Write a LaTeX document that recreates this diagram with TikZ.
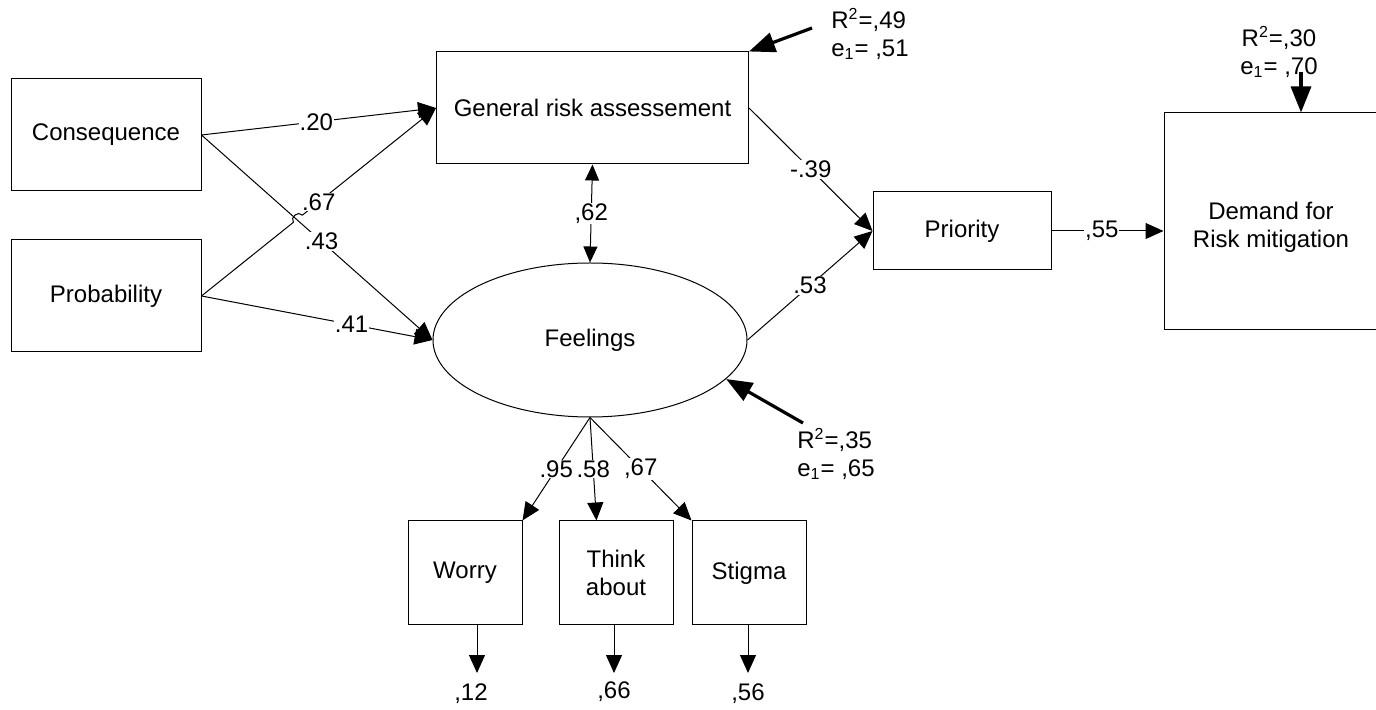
\documentclass[tikz,border=0pt]{standalone}
\usepackage{fontspec}
\setmainfont{Liberation Sans}
\usetikzlibrary{arrows.meta,shapes.geometric,calc}

\begin{document}
\begin{tikzpicture}[x=0.5pt,y=-0.5pt,
    font=\fontsize{12}{14}\selectfont,
    box/.style = {draw, line width=0.5pt, inner sep=0pt, align=center},
    path/.style = {draw, line width=0.5pt, -{Triangle[length=9pt,width=8pt]}},
    resid/.style = {draw, line width=1.6pt, -{Triangle[length=13pt,width=10pt]}},
    lbl/.style = {fill=white, inner sep=0.4pt},
    errtxt/.style = {align=left, inner sep=0pt}]
  \clip (0,0) rectangle (1376,710);

  % observed and latent variables
  \node[box, minimum width=95pt, minimum height=56pt] (cons) at (106,135) {Consequence};
  \node[box, minimum width=95pt, minimum height=56pt] (prob) at (106,296) {Probability};
  \node[box, minimum width=156pt, minimum height=56pt] (gra) at (592.5,108) {General risk assessement};
  \node[box, ellipse, minimum width=157pt, minimum height=77pt] (fe) at (590,340) {Feelings};
  \node[box, minimum width=89pt, minimum height=39pt] (pri) at (962,231) {Priority};
  \node[box, minimum width=107pt, minimum height=108.5pt] (dem) at (1271,221.5) {};
  \node[align=center] (demtxt) at ($(dem)+(0,6)$) {Demand for\\Risk mitigation};
  \node[box, minimum width=57pt, minimum height=52pt] (worry) at (465,573) {Worry};
  \node[box, minimum width=57pt, minimum height=52pt] (think) at (616,573) {Think\\about};
  \node[box, minimum width=57pt, minimum height=52pt] (stig) at (749,573) {Stigma};

  % hop where two paths cross
  \coordinate (h1) at ($(prob.east)!0.392!(gra.west)$);
  \coordinate (h2) at ($(prob.east)!0.430!(gra.west)$);

  % structural paths
  \draw[path] (cons.east) -- (gra.west);
  \draw[path] (cons.east) -- (fe.west);
  \draw[path] (prob.east) -- (h1) to[bend left=90, looseness=1.4] (h2) -- (gra.west);
  \draw[path] (prob.east) -- (fe.west);
  \draw[path] (gra.east) -- (pri.west);
  \draw[path] (fe.east) -- (pri.west);
  \draw[path] (pri.east) -- (pri.east -| dem.west);
  \draw[path, {Triangle[length=8pt,width=7pt]}-{Triangle[length=8pt,width=7pt]}] (gra.south) -- (fe.north);

  \path (cons.east) -- (gra.west) node[lbl, pos=.49] {.20};
  \path (cons.east) -- (fe.west) node[lbl, pos=.52] {.43};
  \path (prob.east) -- (gra.west) node[lbl, pos=.5] {.67};
  \path (prob.east) -- (fe.west) node[lbl, pos=.65] {.41};
  \path (gra.east) -- (pri.west) node[lbl, pos=.5] {-.39};
  \path (fe.east) -- (pri.west) node[lbl, pos=.5] {.53};
  \path (pri.east) -- (pri.east -| dem.west) node[lbl, pos=.45] {,55};
  \path (gra.south) -- (fe.north) node[lbl, pos=.5] {,62};

  % measurement model
  \coordinate (tk) at ($(think.north west)!0.33!(think.north east)$);
  \draw[path] (fe.south) -- (worry.north east) node[lbl, pos=.5] {.95};
  \draw[path] (fe.south) -- (tk) node[lbl, pos=.5] {.58};
  \draw[path] (fe.south) -- (stig.north west) node[lbl, pos=.5] {,67};

  % measurement errors
  \coordinate (w0) at (477,673);
  \coordinate (t0) at (614,673);
  \coordinate (s0) at (748,673);
  \draw[path] (w0 |- worry.south) -- (w0);
  \draw[path] (t0 |- think.south) -- (t0);
  \draw[path] (s0 |- stig.south) -- (s0);
  \node (ew) at (471,694) {,12};
  \node (et) at (614,692) {,66};
  \node (es) at (748,694) {,56};

  % explained variance
  \node[errtxt] (rgra) at (870,34) {R\textsuperscript{2}=,49\\e\textsubscript{1}= ,51};
  \node[errtxt] (rfe) at (836,454) {R\textsuperscript{2}=,35\\e\textsubscript{1}= ,65};
  \node[errtxt, align=center] (rdem) at (1279,52) {R\textsuperscript{2}=,30\\e\textsubscript{1}= ,70};
  \coordinate (a1) at (812,28);
  \coordinate (a2) at (803,423);
  \coordinate (a3) at (1301,72);
  \draw[resid] (a1) -- (gra.north east);
  \draw[resid] (a2) -- (fe.-16);
  \draw[resid] (a3) -- (a3 |- dem.north);
\end{tikzpicture}
\end{document}
